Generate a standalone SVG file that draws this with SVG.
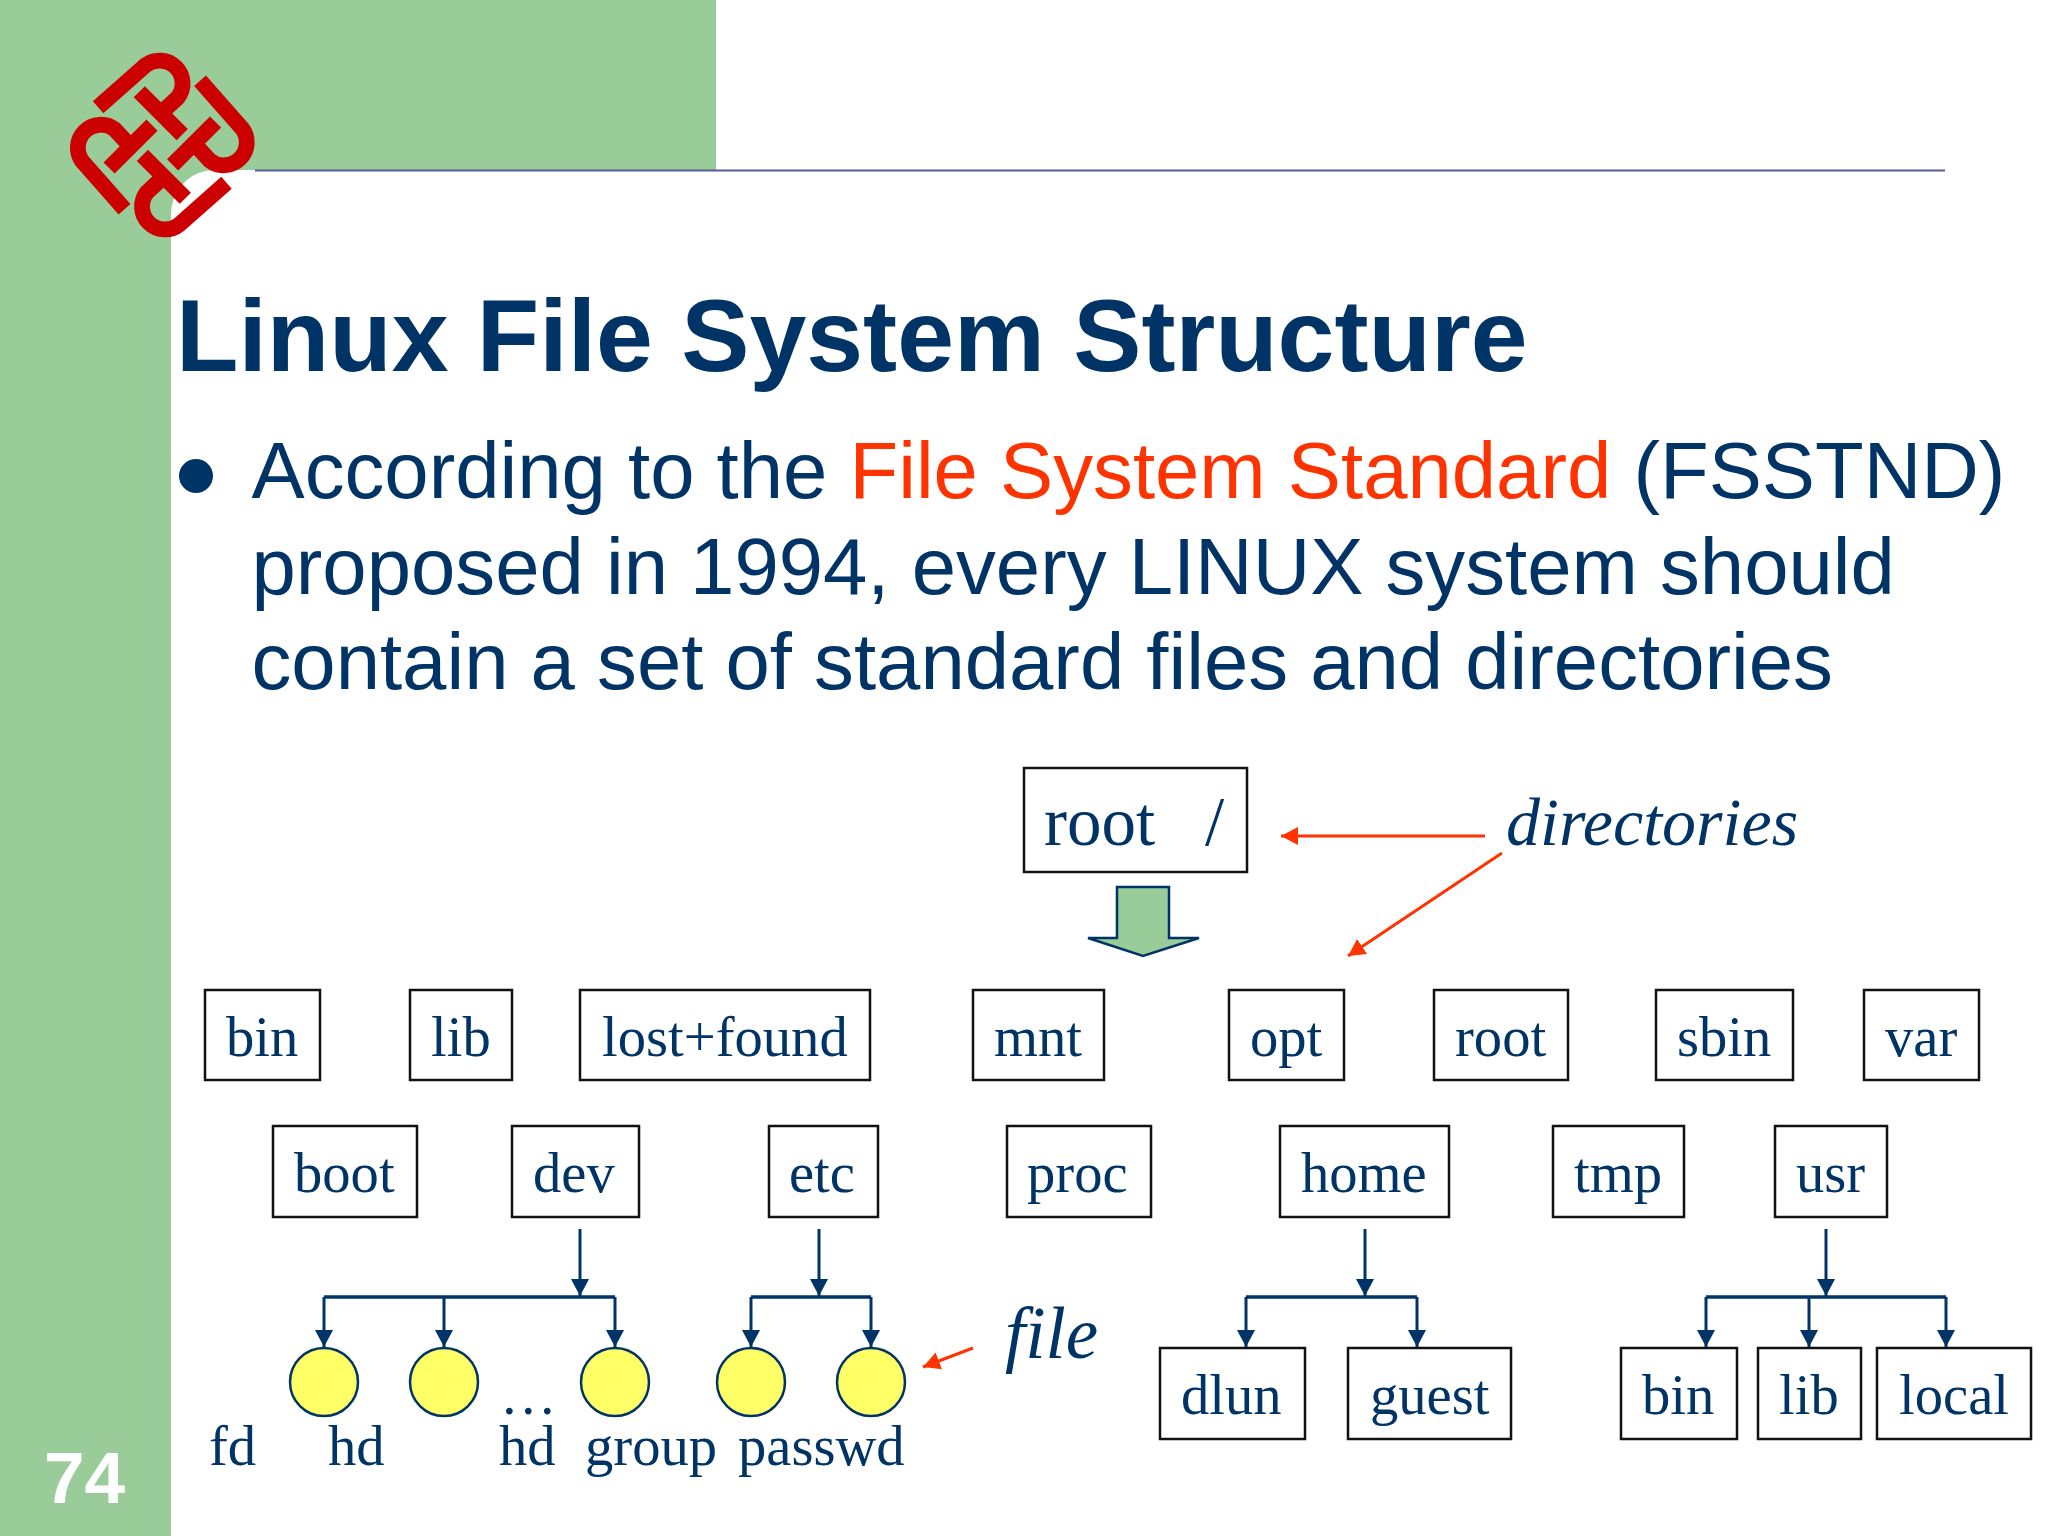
<svg xmlns="http://www.w3.org/2000/svg" width="2048" height="1536" viewBox="0 0 2048 1536">
<style>
.box{fill:#fff;stroke:#111;stroke-width:2.5}
.lbl{font-family:"Liberation Serif",serif;font-size:56.6px;fill:#003366}
.it{font-family:"Liberation Serif",serif;font-style:italic;font-size:68px;fill:#003366}
.body{font-family:"Liberation Sans",Arial,sans-serif;font-size:79.7px;fill:#003366}
.c{fill:none;stroke:#003366;stroke-width:3}
.cb{fill:none;stroke:#003366;stroke-width:3.5}
.r{fill:none;stroke:#ff3300;stroke-width:3}
.file{fill:#ffff66;stroke:#003366;stroke-width:2.5}
.lg{fill:none;stroke:#cc0000;stroke-width:46}
</style>
<defs>
<marker id="ab" markerUnits="userSpaceOnUse" markerWidth="20" markerHeight="20" refX="17" refY="9" orient="auto"><path d="M0,0L17,9L0,18Z" fill="#003366"/></marker>
<marker id="ar" markerUnits="userSpaceOnUse" markerWidth="20" markerHeight="20" refX="17" refY="9" orient="auto"><path d="M0,0L17,9L0,18Z" fill="#ff3300"/></marker>
</defs>
<rect width="2048" height="1536" fill="#fff"/>
<g id="background">
<path d="M0,0H716V170H215A44,44 0 0 0 171,214V1536H0Z" fill="#99cc99"/>
<path d="M255,170.5H1945" stroke="#5a5a9c" stroke-width="2" fill="none"/>
</g>
<g id="logo" transform="translate(162.3 145) scale(.3433) translate(-487 -435)">
<path class="lg" d="M300,325L438,203A67,67 0 0 1 532,297L480,345"/>
<path class="lg" d="M420,280L545,405"/>
<path class="lg" d="M597,248L719,386A67,67 0 0 1 625,480L577,428"/>
<path class="lg" d="M642,368L517,493"/>
<path class="lg" d="M674,545L536,667A67,67 0 0 1 442,573L494,525"/>
<path class="lg" d="M554,590L429,465"/>
<path class="lg" d="M377,622L255,484A67,67 0 0 1 349,390L397,442"/>
<path class="lg" d="M332,502L457,377"/>
</g>
<g id="title"><text x="176" y="371" font-family="'Liberation Sans',Arial,sans-serif" font-weight="bold" font-size="102.2" fill="#003366">Linux File System Structure</text></g>
<g id="body">
<circle cx="196" cy="476" r="17" fill="#003366"/>
<text class="body" x="251.5" y="498">According to the <tspan fill="#ff3300">File System Standard</tspan> (FSSTND)</text>
<text class="body" x="251.5" y="594">proposed in 1994, every LINUX system should</text>
<text class="body" x="251.5" y="689">contain a set of standard files and directories</text>
</g>
<g id="connectors">
<path class="r" d="M1485,836H1281" marker-end="url(#ar)"/>
<path class="r" d="M1502,853L1348,956" marker-end="url(#ar)"/>
<path class="r" d="M973,1348L923,1367" marker-end="url(#ar)"/>
<path class="c" d="M580,1229V1296" marker-end="url(#ab)"/>
<path class="cb" d="M324,1297H615"/>
<path class="c" d="M324,1297V1347" marker-end="url(#ab)"/>
<path class="c" d="M444,1297V1347" marker-end="url(#ab)"/>
<path class="c" d="M615,1297V1347" marker-end="url(#ab)"/>
<path class="c" d="M819,1229V1296" marker-end="url(#ab)"/>
<path class="cb" d="M751,1297H871"/>
<path class="c" d="M751,1297V1347" marker-end="url(#ab)"/>
<path class="c" d="M871,1297V1347" marker-end="url(#ab)"/>
<path class="c" d="M1365,1229V1296" marker-end="url(#ab)"/>
<path class="cb" d="M1246,1297H1417"/>
<path class="c" d="M1246,1297V1347" marker-end="url(#ab)"/>
<path class="c" d="M1417,1297V1347" marker-end="url(#ab)"/>
<path class="c" d="M1826,1229V1296" marker-end="url(#ab)"/>
<path class="cb" d="M1706,1297H1946"/>
<path class="c" d="M1706,1297V1347" marker-end="url(#ab)"/>
<path class="c" d="M1809,1297V1347" marker-end="url(#ab)"/>
<path class="c" d="M1946,1297V1347" marker-end="url(#ab)"/>
</g>
<g id="n-rootdir"><rect class="box" x="1024" y="768" width="223" height="104"/><text class="lbl" style="font-size:69px" x="1044" y="845">root</text><text class="lbl" style="font-size:69px" x="1205" y="845">/</text></g>
<g id="root-arrow"><path d="M1117,887H1169V938H1199L1143,956L1088,938H1117Z" fill="#99cc99" stroke="#003366" stroke-width="2.5"/></g>
<g id="n-directories"><text class="it" x="1506" y="845">directories</text></g>
<g id="n-bin"><rect class="box" x="205" y="990" width="115" height="90"/><text class="lbl" x="226" y="1056">bin</text></g>
<g id="n-lib"><rect class="box" x="410" y="990" width="102" height="90"/><text class="lbl" x="431" y="1056">lib</text></g>
<g id="n-lostfound"><rect class="box" x="580" y="990" width="290" height="90"/><text class="lbl" x="602" y="1056">lost+found</text></g>
<g id="n-mnt"><rect class="box" x="973" y="990" width="131" height="90"/><text class="lbl" x="994" y="1056">mnt</text></g>
<g id="n-opt"><rect class="box" x="1229" y="990" width="115" height="90"/><text class="lbl" x="1250" y="1056">opt</text></g>
<g id="n-root"><rect class="box" x="1434" y="990" width="134" height="90"/><text class="lbl" x="1455" y="1056">root</text></g>
<g id="n-sbin"><rect class="box" x="1656" y="990" width="137" height="90"/><text class="lbl" x="1677" y="1056">sbin</text></g>
<g id="n-var"><rect class="box" x="1864" y="990" width="115" height="90"/><text class="lbl" x="1885" y="1056">var</text></g>
<g id="n-boot"><rect class="box" x="273" y="1126" width="144" height="91"/><text class="lbl" x="294" y="1192">boot</text></g>
<g id="n-dev"><rect class="box" x="512" y="1126" width="127" height="91"/><text class="lbl" x="533" y="1192">dev</text></g>
<g id="n-etc"><rect class="box" x="769" y="1126" width="109" height="91"/><text class="lbl" x="789" y="1192">etc</text></g>
<g id="n-proc"><rect class="box" x="1007" y="1126" width="144" height="91"/><text class="lbl" x="1027" y="1192">proc</text></g>
<g id="n-home"><rect class="box" x="1280" y="1126" width="169" height="91"/><text class="lbl" x="1301" y="1192">home</text></g>
<g id="n-tmp"><rect class="box" x="1553" y="1126" width="131" height="91"/><text class="lbl" x="1574" y="1192">tmp</text></g>
<g id="n-usr"><rect class="box" x="1775" y="1126" width="112" height="91"/><text class="lbl" x="1796" y="1192">usr</text></g>
<g id="n-dlun"><rect class="box" x="1160" y="1348" width="145" height="91"/><text class="lbl" x="1181" y="1414">dlun</text></g>
<g id="n-guest"><rect class="box" x="1348" y="1348" width="163" height="91"/><text class="lbl" x="1370" y="1414">guest</text></g>
<g id="n-usr-bin"><rect class="box" x="1621" y="1348" width="116" height="91"/><text class="lbl" x="1642" y="1414">bin</text></g>
<g id="n-usr-lib"><rect class="box" x="1758" y="1348" width="103" height="91"/><text class="lbl" x="1779" y="1414">lib</text></g>
<g id="n-usr-local"><rect class="box" x="1877" y="1348" width="154" height="91"/><text class="lbl" x="1899" y="1414">local</text></g>
<g id="n-fd"><circle class="file" cx="324" cy="1382" r="34"/><text class="lbl" x="209" y="1465">fd</text></g>
<g id="n-hd1"><circle class="file" cx="444" cy="1382" r="34"/><text class="lbl" x="328" y="1465">hd</text></g>
<g id="n-hd2"><circle class="file" cx="615" cy="1382" r="34"/><text class="lbl" x="499" y="1465">hd</text><text class="lbl" x="500" y="1414">…</text></g>
<g id="n-group"><circle class="file" cx="751" cy="1382" r="34"/><text class="lbl" x="585" y="1465">group</text></g>
<g id="n-passwd"><circle class="file" cx="871" cy="1382" r="34"/><text class="lbl" x="738" y="1465">passwd</text></g>
<g id="n-file"><text class="it" style="font-size:73px" x="1005" y="1358">file</text></g>
<g id="page"><text x="44" y="1503" font-family="'Liberation Sans',Arial,sans-serif" font-weight="bold" font-size="73" fill="#fff">74</text></g>
</svg>
